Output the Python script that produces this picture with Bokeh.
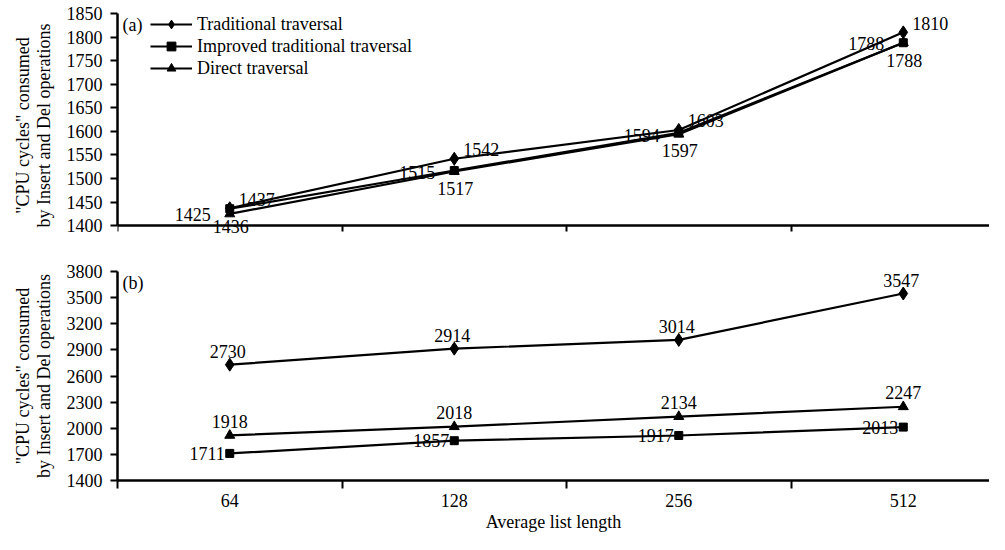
from bokeh.plotting import figure
from bokeh.layouts import column
from bokeh.models import (Range1d, FixedTicker, Label, Legend, LegendItem,
                          LabelSet, ColumnDataSource)
from bokeh.embed import file_html
from bokeh.resources import INLINE

# ---------------- data ----------------
list_lengths = ["64", "128", "256", "512"]
series_names = ["Traditional traversal", "Improved traditional traversal", "Direct traversal"]

a_traditional = [1437, 1542, 1603, 1810]
a_improved = [1436, 1517, 1597, 1788]
a_direct = [1425, 1515, 1594, 1788]

b_traditional = [2730, 2914, 3014, 3547]
b_improved = [1711, 1857, 1917, 2013]
b_direct = [1918, 2018, 2134, 2247]

a_ticks = [1400, 1450, 1500, 1550, 1600, 1650, 1700, 1750, 1800, 1850]
b_ticks = [1400, 1700, 2000, 2300, 2600, 2900, 3200, 3500, 3800]

FONT = "Liberation Serif"
FS = "18px"
Y_TITLE = '"CPU cycles" consumed\nby Insert and Del operations'
xs = list(range(len(list_lengths)))
boundaries = [i - 0.5 for i in xs]


def make_panel(height, top, bottom, yticks, show_x, y_pad=0):
    p = figure(width=989, height=height, output_backend="svg", toolbar_location=None,
               x_range=Range1d(-0.5, 3.384),
               y_range=Range1d(yticks[0] - y_pad, yticks[-1]),
               min_border_left=117, min_border_right=0,
               min_border_top=top, min_border_bottom=bottom)
    p.outline_line_color = None
    p.grid.visible = False

    ya = p.yaxis[0]
    ya.ticker = FixedTicker(ticks=yticks)
    ya.bounds = (yticks[0], yticks[-1])
    ya.axis_line_width = 2.5
    ya.major_tick_out = 7
    ya.major_tick_in = 0
    ya.major_tick_line_width = 2
    ya.minor_tick_out = 0
    ya.minor_tick_in = 0
    ya.major_label_text_font = FONT
    ya.major_label_text_font_size = FS
    ya.major_label_text_color = "black"
    ya.major_label_standoff = 8
    ya.axis_label = Y_TITLE
    ya.axis_label_text_font = FONT
    ya.axis_label_text_font_size = FS
    ya.axis_label_text_font_style = "normal"
    ya.axis_label_text_color = "black"
    ya.axis_label_text_line_height = 1.05
    ya.axis_label_standoff = 10

    xa = p.xaxis[0]
    xa.ticker = FixedTicker(ticks=xs, minor_ticks=boundaries)
    xa.axis_line_width = 2.5
    xa.major_tick_out = 0
    xa.major_tick_in = 0
    xa.minor_tick_out = 8 if show_x else 6
    xa.minor_tick_in = 0
    xa.minor_tick_line_width = 2
    if y_pad:
        xa.fixed_location = yticks[0]
    if show_x:
        xa.major_label_overrides = {i: s for i, s in zip(xs, list_lengths)}
        xa.major_label_text_font = FONT
        xa.major_label_text_font_size = FS
        xa.major_label_text_color = "black"
        xa.major_label_standoff = 5
        xa.axis_label = "Average list length"
        xa.axis_label_text_font = FONT
        xa.axis_label_text_font_size = FS
        xa.axis_label_text_font_style = "normal"
        xa.axis_label_text_color = "black"
        xa.axis_label_standoff = 2
    else:
        xa.major_label_overrides = {i: "" for i in xs}
        xa.major_label_text_font_size = "1px"
        xa.major_label_standoff = 0
    return p


MARKERS = [("diamond", 13), ("square", 8), ("triangle", 10)]


def add_series(p, ys, marker, size):
    r_line = p.line(xs, ys, line_color="black", line_width=2.2)
    r_pts = p.scatter(xs, ys, marker=marker, size=size,
                      fill_color="black", line_color="black")
    return r_line, r_pts


def add_labels(p, ys, align, dx, dy):
    src = ColumnDataSource(dict(x=xs, y=ys, t=[str(v) for v in ys]))
    p.add_layout(LabelSet(x="x", y="y", text="t", source=src,
                          x_offset=dx, y_offset=dy, text_align=align,
                          text_baseline="middle", text_font=FONT,
                          text_font_size=FS, text_color="black"))


# ---------------- panel (a) ----------------
pa = make_panel(247, 13, 10, a_ticks, False, y_pad=25)
items = []
for name, ys, (mk, sz) in zip(series_names, [a_traditional, a_improved, a_direct], MARKERS):
    rl, rp = add_series(pa, ys, mk, sz)
    items.append(LegendItem(label=name, renderers=[rl, rp]))
add_labels(pa, a_traditional, "left", 9, 9)
add_labels(pa, a_improved, "center", 1, -18)
add_labels(pa, a_direct, "right", -19, -1)

legend = Legend(items=items, location="top_left", padding=0, margin=0, spacing=0,
                label_height=22, glyph_height=22, glyph_width=42, label_standoff=5,
                border_line_color=None, background_fill_alpha=0,
                label_text_font=FONT, label_text_font_size=FS, label_text_color="black")
legend.margin = 0
pa.add_layout(legend)
pa.add_layout(Label(x=-0.5, y=a_ticks[-1], x_offset=5, y_offset=-11, text="(a)",
                    text_font=FONT, text_font_size=FS, text_baseline="middle",
                    text_color="black"))

# ---------------- panel (b) ----------------
pb = make_panel(287, 24, 54, b_ticks, True)
for ys, (mk, sz) in zip([b_traditional, b_improved, b_direct], MARKERS):
    add_series(pb, ys, mk, sz)
add_labels(pb, b_traditional, "center", -2, 13)
add_labels(pb, b_improved, "right", -5, 0)
add_labels(pb, b_direct, "center", 0, 14)
pb.add_layout(Label(x=-0.5, y=b_ticks[-1], x_offset=5, y_offset=-11, text="(b)",
                    text_font=FONT, text_font_size=FS, text_baseline="middle",
                    text_color="black"))

# legend placed relative to the frame's top-left corner
legend.location = (33, 224 - 66)

layout = column(pa, pb, spacing=0)
open("out.html", "w").write(file_html(layout, INLINE))
